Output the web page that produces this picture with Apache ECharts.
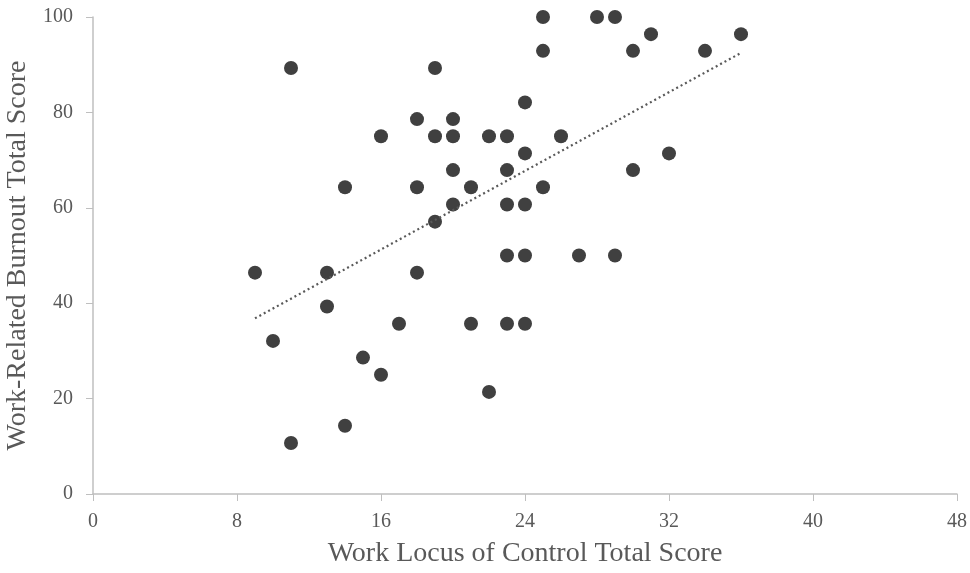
<!DOCTYPE html>
<html><head><meta charset="utf-8">
<script src="https://cdn.jsdelivr.net/npm/echarts@6/dist/echarts.min.js"></script>
<style>html,body{margin:0;padding:0;background:#fff}#c{width:970px;height:573px}</style>
</head><body><div id="c"></div>
<script>
const xValues = [9,10,11,11,13,13,14,14,15,16,16,17,18,18,18,19,19,19,20,20,20,20,21,21,22,22,23,23,23,23,23,24,24,24,24,24,25,25,25,26,27,28,29,29,30,30,31,32,34,36];
const yValues = [46.4,32.1,89.3,10.7,46.4,39.3,64.3,14.3,28.6,75,25,35.7,78.6,64.3,46.4,89.3,75,57.1,78.6,75,67.9,60.7,64.3,35.7,75,21.4,75,67.9,60.7,50,35.7,82.1,71.4,60.7,50,35.7,100,92.9,64.3,75,50,100,100,50,92.9,67.9,96.4,71.4,92.9,96.4];
const xTicks = [0,8,16,24,32,40,48];
const yTicks = [0,20,40,60,80,100];
const xTitle = 'Work Locus of Control Total Score';
const yTitle = 'Work-Related Burnout Total Score';

const pts = xValues.map((x,i)=>[x,yValues[i]]);
// least squares trendline from data
const n = pts.length;
const mx = xValues.reduce((a,b)=>a+b,0)/n, my = yValues.reduce((a,b)=>a+b,0)/n;
let sxy=0,sxx=0; for(let i=0;i<n;i++){sxy+=(xValues[i]-mx)*(yValues[i]-my);sxx+=(xValues[i]-mx)**2;}
const slope=sxy/sxx, icpt=my-slope*mx;
const xmin=Math.min(...xValues), xmax=Math.max(...xValues);
const trend=[[xmin,icpt+slope*xmin],[xmax,icpt+slope*xmax]];

const font='"Liberation Serif","Times New Roman",serif';
const chart=echarts.init(document.getElementById('c'),null,{renderer:'canvas'});
chart.setOption({
  animation:false,
  grid:{left:93,right:13,top:17,bottom:79,containLabel:false,outerBoundsMode:'none'},
  xAxis:{type:'value',min:xTicks[0],max:xTicks[xTicks.length-1],interval:xTicks[1]-xTicks[0],
    name:xTitle,nameLocation:'middle',nameGap:46,
    nameTextStyle:{fontFamily:font,fontSize:28,color:'#595959'},
    axisLine:{lineStyle:{color:'#bfbfbf',width:1.5}},
    axisTick:{show:true,length:7,lineStyle:{color:'#bfbfbf'}},
    axisLabel:{fontFamily:font,fontSize:20,color:'#595959',margin:18},
    splitLine:{show:false}},
  yAxis:{type:'value',min:yTicks[0],max:yTicks[yTicks.length-1],interval:yTicks[1]-yTicks[0],
    name:yTitle,nameLocation:'middle',nameGap:58,
    nameTextStyle:{fontFamily:font,fontSize:28,color:'#595959'},
    axisLine:{show:true,lineStyle:{color:'#bfbfbf',width:1.5}},
    axisTick:{show:true,length:7,lineStyle:{color:'#bfbfbf'}},
    axisLabel:{fontFamily:font,fontSize:20,color:'#595959',margin:20},
    splitLine:{show:false}},
  series:[
    {type:'line',data:trend,symbol:'none',z:3,
      lineStyle:{color:'#595959',width:2.2,type:[2,3]}},
    {type:'scatter',data:pts,symbol:'circle',symbolSize:14,z:2,
      itemStyle:{color:'#404040',opacity:1}}
  ]
});
</script></body></html>
